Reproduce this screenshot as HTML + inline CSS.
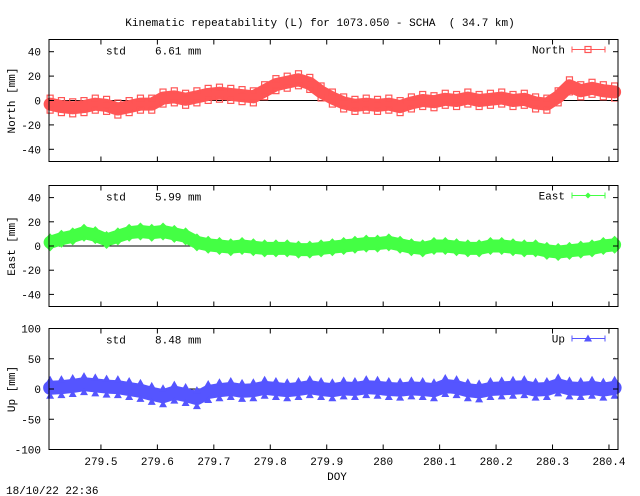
<!DOCTYPE html>
<html><head><meta charset="utf-8"><style>
body{margin:0;background:#fff;}
svg{display:block;font-family:"Liberation Mono",monospace;font-size:11px;}
</style></head><body>
<svg id="c" width="640" height="496" xmlns="http://www.w3.org/2000/svg">
<text x="320" y="26" text-anchor="middle" xml:space="preserve">Kinematic repeatability (L) for 1073.050 - SCHA  ( 34.7 km)</text>
<text x="337" y="480" text-anchor="middle">DOY</text>
<text x="6" y="494">18/10/22 22:36</text>
</svg>
<script>
const doy = [];
for (let i = 0; i < 51; i++) doy.push(279.41 + i * 0.02);
const northVals = [-3,-5,-6,-5,-3,-4,-7,-5,-3,-3,2,3,1,3,5,6,5,4,3,8,13,15,17,14,7,2,-2,-4,-3,-4,-3,-5,-2,0,-1,1,0,2,0,1,2,0,1,-2,-3,3,12,8,10,8,7];
const eastVals = [3,6,8,11,9,5,8,11,12,11,12,10,8,3,1,0,-1,0,-1,-2,-2,-2,-3,-3,-2,-1,0,1,2,2,3,1,-1,-2,0,0,-1,-2,-2,0,0,-1,-2,-2,-4,-5,-4,-3,-2,0,1];
const upVals = [2,3,5,8,6,4,3,0,-3,-8,-12,-6,-10,-15,-5,-2,0,-3,-2,2,0,-2,0,3,0,-2,1,0,3,2,0,-1,1,0,-2,5,3,-2,-4,0,1,2,3,-1,0,6,1,0,2,-1,2];
const xTicks = [279.5,279.6,279.7,279.8,279.9,280,280.1,280.2,280.3,280.4];
const xLabels = ["279.5","279.6","279.7","279.8","279.9","280","280.1","280.2","280.3","280.4"];
const northTicks = [40,20,0,-20,-40];
const eastTicks = [40,20,0,-20,-40];
const upTicks = [100,50,0,-50,-100];

const NS = "http://www.w3.org/2000/svg";
const svg = document.getElementById('c');
const X0 = 49, X1 = 618, D0 = 279.408, D1 = 280.416;
const xs = d => X0 + (d - D0) / (D1 - D0) * (X1 - X0);
function el(tag, attrs, parent) { const e = document.createElementNS(NS, tag); for (const k in attrs) e.setAttribute(k, attrs[k]); (parent || svg).appendChild(e); return e; }

const panels = [
  {key:'north', label:'North [mm]', legend:'North', vals:northVals, ticks:northTicks, top:39.5, bot:161.5, min:-50, max:50, color:'#f55', std:'6.61 mm', marker:'square'},
  {key:'east', label:'East [mm]', legend:'East', vals:eastVals, ticks:eastTicks, top:185.5, bot:306.5, min:-50, max:50, color:'#4f4', std:'5.99 mm', marker:'diamond'},
  {key:'up', label:'Up [mm]', legend:'Up', vals:upVals, ticks:upTicks, top:328.5, bot:449.5, min:-100, max:100, color:'#55f', std:'8.48 mm', marker:'triangle'}
];
function marker(g, type, x, y, color) {
  let m;
  if (type === 'square') m = el('rect', {x:x-3, y:y-3, width:6, height:6, fill:'none', stroke:color, 'stroke-width':1.2}, g);
  else if (type === 'diamond') m = el('polygon', {points:`${x},${y-3} ${x+3},${y} ${x},${y+3} ${x-3},${y}`, fill:color}, g);
  else m = el('polygon', {points:`${x},${y-4} ${x+4},${y+3} ${x-4},${y+3}`, fill:color}, g);
  
  
  return m;
}
panels.forEach(p => {
  const ys = v => p.bot - (v - p.min) / (p.max - p.min) * (p.bot - p.top);
  const g = el('g', {});
  
  
  const zero = el('line', {x1:X0, x2:X1, y1:ys(0), y2:ys(0), stroke:'#000', 'stroke-width':1}, g);
  
  
  const pts = doy.map((d, i) => `${xs(d)},${ys(p.vals[i])}`).join(' ');
  const band = el('polyline', {points:pts, fill:'none', stroke:p.color, 'stroke-width':p.key==='up'?14:13, 'stroke-linejoin':'round', 'stroke-linecap':'round'}, g);
  
  
  doy.forEach((d, i) => {
    const off = p.key === 'up' ? 8 : 6;
    marker(g, p.marker, xs(d), ys(p.vals[i]) - off, p.color);
    marker(g, p.marker, xs(d), ys(p.vals[i]) + off, p.color);
  });
  const frame = el('rect', {x:X0, y:p.top, width:X1-X0, height:p.bot-p.top, fill:'none', stroke:'#000', 'stroke-width':1}, g);
  
  
  p.ticks.forEach(t => {
    const y = ys(t);
    el('line', {x1:X0, x2:X0+5, y1:y, y2:y, stroke:'#000'}, g);
    el('line', {x1:X1-5, x2:X1, y1:y, y2:y, stroke:'#000'}, g);
    const tl = el('text', {x:X0-8, y:y+4, 'text-anchor':'end'}, g);
    tl.textContent = t;
    
    
  });
  xTicks.forEach((t, i) => {
    const x = xs(t);
    el('line', {x1:x, x2:x, y1:p.bot, y2:p.bot-5, stroke:'#000'}, g);
    el('line', {x1:x, x2:x, y1:p.top, y2:p.top+5, stroke:'#000'}, g);
    if (p.key === 'up') {
      const xl = el('text', {x:x, y:465, 'text-anchor':'middle'}, g);
      xl.textContent = xLabels[i];
      
      
    }
  });
  const cy = (p.top + p.bot) / 2;
  const yl = el('text', {x:0, y:0, 'text-anchor':'middle', transform:`translate(15,${cy}) rotate(-90)`}, g);
  yl.textContent = p.label;
  
  
  const st = el('text', {x:106, y:p.top+15}, g);
  st.textContent = 'std';
  
  
  const sv = el('text', {x:155, y:p.top+15}, g);
  sv.textContent = p.std;
  
  
  const lg = el('g', {}, g);
  
  
  const ly = p.top + 10;
  const lt = el('text', {x:565, y:ly+4, 'text-anchor':'end'}, lg);
  lt.textContent = p.legend;
  el('line', {x1:572, x2:605, y1:ly, y2:ly, stroke:p.color, 'stroke-width':1}, lg);
  el('line', {x1:572, x2:572, y1:ly-3, y2:ly+3, stroke:p.color}, lg);
  el('line', {x1:605, x2:605, y1:ly-3, y2:ly+3, stroke:p.color}, lg);
  marker(lg, p.marker, 588, ly, p.color);
});
</script>
</body></html>
